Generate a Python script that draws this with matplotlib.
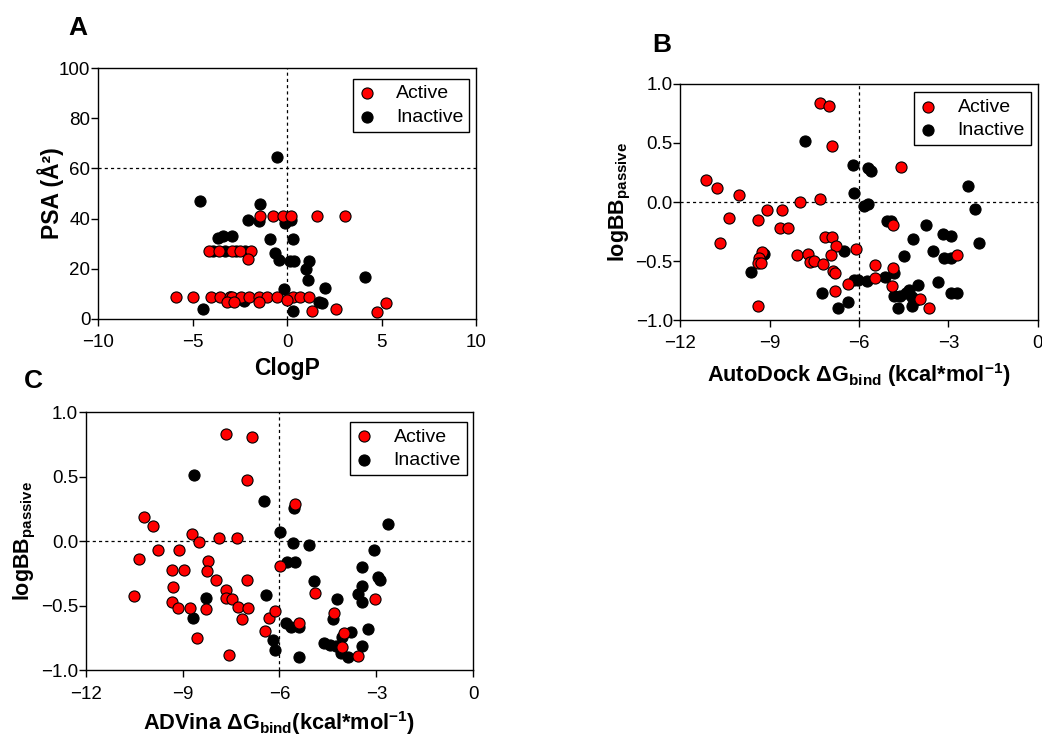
import matplotlib
matplotlib.use("Agg")
import matplotlib.pyplot as plt
from matplotlib.ticker import FuncFormatter

plt.rcParams["font.family"] = ["Liberation Sans", "DejaVu Sans"]
plt.rcParams["mathtext.fontset"] = "custom"
plt.rcParams["mathtext.rm"] = "Liberation Sans"
plt.rcParams["mathtext.bf"] = "Liberation Sans:bold"
plt.rcParams["mathtext.it"] = "Liberation Sans:italic"

# ── Panel A: ClogP vs PSA ─────────────────────────────────────────────────────
a_act_x = [-1.44, -0.77, -0.20, 0.22, 1.60, 3.08,
           -4.14, -3.61, -2.92, -2.48, -1.93, -2.07,
           -5.87, -4.99, -4.02, -3.52, -3.03, -2.89, -2.41, -2.02, -1.47, -1.05,
           -0.52, 0.33, 0.71, 1.17,
           -3.15, -2.83, -1.49, -0.01, 1.33, 2.60, 4.76, 5.22]
a_act_y = [41.0, 41.0, 41.0, 41.0, 41.0, 41.0,
           27.0, 27.0, 27.0, 27.0, 27.0, 23.9,
           8.6, 8.6, 8.6, 8.6, 8.6, 8.6, 8.6, 8.6, 8.6, 8.6,
           8.6, 8.6, 8.6, 8.6,
           6.8, 6.8, 6.8, 7.4, 3.1, 4.1, 2.9, 6.2]
a_inact_x = [-0.52, -4.63, -1.44, -2.09, -1.49, -0.10, 0.20,
             -3.63, -3.38, -2.90, -0.89, 0.29,
             -0.66, -0.43, 0.15, 0.38, 1.17, 1.01, 1.10, 2.00, -0.15, 4.12,
             -4.44, -2.27, 0.33, 1.70, 1.83,
             -3.90, -3.30, -2.70, -2.20, -3.00]
a_inact_y = [64.4, 47.1, 46.0, 39.4, 38.9, 38.2, 39.3,
             32.4, 33.2, 32.9, 32.0, 31.7,
             26.2, 23.4, 23.1, 23.2, 23.2, 20.1, 15.7, 12.2, 12.0, 16.9,
             4.1, 7.2, 3.1, 6.6, 6.2,
             27.0, 27.0, 27.0, 27.0, 8.8]

# ── Panel B: AutoDock dG vs logBB ─────────────────────────────────────────────
b_act_x = [-7.31, -7.00, -6.91, -4.60, -11.13, -10.76, -10.03, -7.30, -7.98,
           -10.38, -9.10, -8.60, -9.39, -10.68, -8.65, -8.38, -7.15, -6.91,
           -6.78, -6.11, -4.86, -9.26, -9.35, -9.41, -9.30, -8.08, -7.73,
           -7.65, -7.53, -7.21, -6.93, -6.87, -6.81, -6.82, -6.39, -5.46,
           -5.47, -4.86, -4.90, -3.97, -3.67, -2.70, -9.38]
b_act_y = [0.836, 0.814, 0.475, 0.295, 0.188, 0.123, 0.058, 0.027, -0.001,
           -0.131, -0.069, -0.069, -0.154, -0.351, -0.216, -0.224, -0.300, -0.300,
           -0.374, -0.399, -0.193, -0.425, -0.470, -0.520, -0.520, -0.447, -0.439,
           -0.509, -0.501, -0.523, -0.447, -0.585, -0.597, -0.749, -0.693, -0.535,
           -0.639, -0.557, -0.707, -0.817, -0.893, -0.447, -0.884]
b_inact_x = [-7.81, -6.20, -5.71, -5.61, -6.17, -5.82, -5.69, -2.33, -2.10,
             -1.99, -5.07, -4.93, -3.75, -4.19, -3.18, -2.90, -4.50, -3.51,
             -3.16, -2.90, -6.50, -9.19, -9.63, -6.18, -6.03, -5.74, -5.13,
             -4.84, -4.04, -3.34, -7.24, -6.36, -6.72, -4.84, -4.63, -4.41,
             -4.34, -4.24, -4.24, -4.68, -4.10, -2.91, -2.71]
b_inact_y = [0.518, 0.317, 0.292, 0.261, 0.075, -0.030, -0.013, 0.137, -0.061,
             -0.348, -0.157, -0.157, -0.193, -0.312, -0.267, -0.289, -0.453, -0.413,
             -0.472, -0.478, -0.416, -0.436, -0.591, -0.662, -0.662, -0.667, -0.636,
             -0.597, -0.701, -0.678, -0.769, -0.848, -0.899, -0.797, -0.797, -0.774,
             -0.746, -0.803, -0.879, -0.899, -0.831, -0.766, -0.766]

# ── Panel C: ADVina dG vs logBB ───────────────────────────────────────────────
c_act_x = [-7.67, -6.85, -7.00, -5.52, -10.20, -9.93, -8.71, -8.48, -7.87,
           -7.31, -10.34, -9.76, -9.12, -8.20, -9.33, -8.96, -8.25, -7.96,
           -7.02, -5.99, -10.49, -9.31, -9.32, -9.15, -8.77, -8.27, -7.67,
           -7.66, -7.46, -7.27, -6.96, -7.15, -8.55, -7.56, -6.44, -6.31,
           -6.14, -5.41, -4.90, -4.32, -4.00, -4.05, -3.57, -3.04]
c_act_y = [0.835, 0.811, 0.473, 0.292, 0.186, 0.121, 0.057, -0.005, 0.026,
           0.026, -0.137, -0.070, -0.070, -0.155, -0.220, -0.220, -0.227, -0.302,
           -0.302, -0.191, -0.426, -0.351, -0.470, -0.517, -0.517, -0.525, -0.375,
           -0.442, -0.450, -0.506, -0.514, -0.599, -0.747, -0.884, -0.693, -0.592,
           -0.537, -0.636, -0.401, -0.558, -0.708, -0.817, -0.891, -0.444]
c_inact_x = [-8.65, -6.48, -5.56, -2.65, -5.97, -5.58, -5.10, -3.06, -5.76,
             -5.53, -3.44, -2.96, -2.90, -4.92, -3.43, -3.56, -3.46, -4.21,
             -6.42, -8.26, -8.69, -5.79, -5.63, -5.39, -4.34, -3.26, -6.20,
             -6.13, -5.39, -4.63, -4.44, -4.24, -4.07, -3.80, -4.11, -3.88, -3.45]
c_inact_y = [0.517, 0.315, 0.256, 0.137, 0.072, -0.010, -0.028, -0.065, -0.160,
             -0.160, -0.199, -0.279, -0.300, -0.310, -0.346, -0.408, -0.470, -0.450,
             -0.419, -0.437, -0.592, -0.630, -0.667, -0.667, -0.605, -0.677, -0.765,
             -0.842, -0.894, -0.791, -0.801, -0.811, -0.739, -0.705, -0.868, -0.894, -0.809]

ACTIVE = "#FF0000"
INACTIVE = "#000000"
TICK_FS = 13.5
LABEL_FS = 16.5
DG_FS = 15.7
LOGBB_FS = 15.5
MARKER_S = 64


def _one_decimal(x, _):
    if abs(x) < 1e-9:
        x = 0.0
    return f"{x:.1f}".replace("-", "\u2212")


def draw_panel(ax, act_x, act_y, inact_x, inact_y, vline, hline, legend_anchor):
    ax.axvline(vline, color="black", lw=0.9, ls=(0, (2.5, 2.5)), zorder=1)
    ax.axhline(hline, color="black", lw=0.9, ls=(0, (2.5, 2.5)), zorder=1)
    h_in = ax.scatter(inact_x, inact_y, s=MARKER_S, c=INACTIVE, edgecolors="black",
                      linewidths=0.8, zorder=3, label="Inactive")
    h_act = ax.scatter(act_x, act_y, s=MARKER_S, c=ACTIVE, edgecolors="black",
                       linewidths=0.8, zorder=4, label="Active")
    leg = ax.legend([h_act, h_in], ["Active", "Inactive"], loc="upper right",
                    bbox_to_anchor=legend_anchor, borderaxespad=0, fancybox=False,
                    framealpha=1, edgecolor="black", fontsize=14,
                    handletextpad=1.07, borderpad=0.3, labelspacing=0.3,
                    handlelength=0.85)
    leg.get_frame().set_linewidth(1.0)
    for sp in ax.spines.values():
        sp.set_linewidth(1.0)
    ax.tick_params(direction="out", length=5, width=1.0, labelsize=TICK_FS,
                   top=False, right=False)
    ax.tick_params(axis="x", pad=6)
    ax.tick_params(axis="y", pad=0.5)


fig = plt.figure(figsize=(10.42, 7.36), dpi=100)

ax_a = fig.add_axes([0.094, 0.5666, 0.363, 0.341])
ax_b = fig.add_axes([0.653, 0.565, 0.343, 0.321])
ax_c = fig.add_axes([0.0822, 0.0893, 0.372, 0.3505])

draw_panel(ax_a, a_act_x, a_act_y, a_inact_x, a_inact_y, 0, 60, (0.981, 0.956))
ax_a.set_xlim(-10, 10)
ax_a.set_ylim(0, 100)
ax_a.set_xticks([-10, -5, 0, 5, 10])
ax_a.set_yticks([0, 20, 40, 60, 80, 100])
ax_a.set_xlabel("ClogP", fontsize=LABEL_FS, fontweight="bold", labelpad=4)
ax_a.set_ylabel("PSA (Å²)", fontsize=LABEL_FS, fontweight="bold", labelpad=-4)

draw_panel(ax_b, b_act_x, b_act_y, b_inact_x, b_inact_y, -6, 0, (0.980, 0.965))
ax_b.set_xlim(-12, 0)
ax_b.set_ylim(-1.0, 1.0)
ax_b.set_xticks([-12, -9, -6, -3, 0])
ax_b.set_yticks([-1.0, -0.5, 0.0, 0.5, 1.0])
ax_b.yaxis.set_major_formatter(FuncFormatter(_one_decimal))
ax_b.set_xlabel(r"AutoDock $\mathbf{\Delta G_{bind}}$ (kcal*mol$^{\mathbf{-1}}$)",
                fontsize=DG_FS, fontweight="bold", labelpad=6)
ax_b.set_ylabel(r"logBB$_{\mathbf{passive}}$", fontsize=LOGBB_FS,
                fontweight="bold", labelpad=2)

draw_panel(ax_c, c_act_x, c_act_y, c_inact_x, c_inact_y, -6, 0, (0.983, 0.962))
ax_c.set_xlim(-12, 0)
ax_c.set_ylim(-1.0, 1.0)
ax_c.set_xticks([-12, -9, -6, -3, 0])
ax_c.set_yticks([-1.0, -0.5, 0.0, 0.5, 1.0])
ax_c.yaxis.set_major_formatter(FuncFormatter(_one_decimal))
ax_c.set_xlabel(r"ADVina $\mathbf{\Delta G_{bind}}$(kcal*mol$^{\mathbf{-1}}$)",
                fontsize=DG_FS, fontweight="bold", labelpad=5)
ax_c.set_ylabel(r"logBB$_{\mathbf{passive}}$", fontsize=LOGBB_FS,
                fontweight="bold", labelpad=2)

fig.text(78 / 1042, 1 - 28 / 736, "A", fontsize=19, fontweight="bold",
         ha="center", va="center")
fig.text(662 / 1042, 1 - 45 / 736, "B", fontsize=19, fontweight="bold",
         ha="center", va="center")
fig.text(33 / 1042, 1 - 381 / 736, "C", fontsize=19, fontweight="bold",
         ha="center", va="center")

fig.savefig("out.png", dpi=100)
